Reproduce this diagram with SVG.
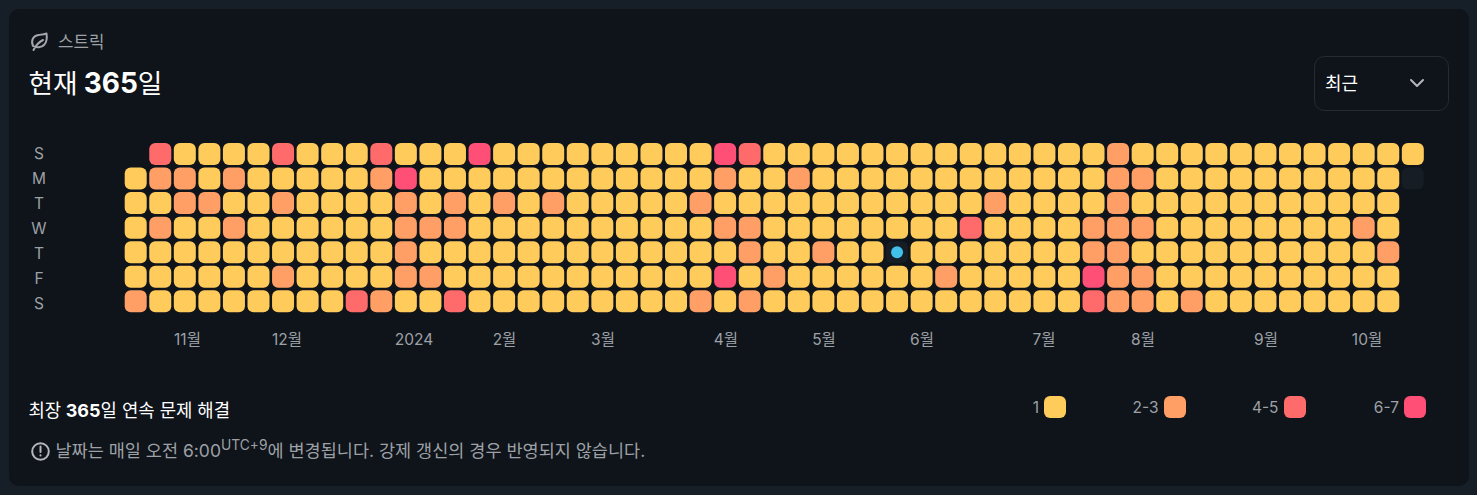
<svg xmlns="http://www.w3.org/2000/svg" width="1477" height="495" viewBox="0 0 1477 495">
<style>
text{font-family:"Inter","Noto Sans CJK KR","Noto Sans",sans-serif}
.cells rect,.lg rect{width:22px;height:22px;rx:6px;fill:#FFCC5C}
.cells rect.b,.lg rect.b{fill:#FF9F66}
.cells rect.c,.lg rect.c{fill:#FF6B6B}
.cells rect.d,.lg rect.d{fill:#FF4F76}
.cells rect.e{fill:#161D25}
.m{font-size:15.5px;fill:#9DA1A6}
.d0{text-anchor:middle}
.w{fill:#FFFFFF}
.bold{font-weight:700}
</style>
<rect width="1477" height="495" fill="#161E27"/>
<rect id="card" x="9" y="9" width="1460" height="477" rx="10" fill="#0F131A"/>
<g id="header">
<path d="M33.5 50C36 45 39 42 43 40M33 46C30.5 40 33.5 35.5 38.5 35C42 34.6 44.5 34.4 46.5 33.5C47.2 38 46.5 42 44.5 44.5C41.5 48 36.5 48 33 46Z" fill="none" stroke="#A3A6AA" stroke-width="2" stroke-linecap="round" stroke-linejoin="round"/>
<text x="58" y="48" font-size="16.8" fill="#9DA1A6">스트릭</text>
<text x="28.5" y="93" font-size="26.7" class="w">현재 <tspan class="bold" font-size="28" dx="-1.5">365</tspan>일</text>
</g>
<g id="select">
<rect x="1314.5" y="56.5" width="134" height="54" rx="10" fill="none" stroke="#262C34"/>
<text x="1325" y="89.5" font-size="18" class="w">최근</text>
<path d="M1411 80L1417 86L1423 80" fill="none" stroke="#B4B7BB" stroke-width="2" stroke-linecap="round" stroke-linejoin="round"/>
</g>
<g id="weekdays" class="m d0">
<text x="39" y="159">S</text>
<text x="39" y="184">M</text>
<text x="39" y="209">T</text>
<text x="39" y="234">W</text>
<text x="39" y="259">T</text>
<text x="39" y="284">F</text>
<text x="39" y="309">S</text>
</g>
<g id="grid" class="cells">
<g transform="translate(0,143)"><rect x="149.26" class="c"/><rect x="173.82"/><rect x="198.38"/><rect x="222.94"/><rect x="247.5"/><rect x="272.06" class="c"/><rect x="296.62"/><rect x="321.18"/><rect x="345.74"/><rect x="370.3" class="c"/><rect x="394.86"/><rect x="419.42"/><rect x="443.98"/><rect x="468.54" class="d"/><rect x="493.1"/><rect x="517.66"/><rect x="542.22"/><rect x="566.78"/><rect x="591.34"/><rect x="615.9"/><rect x="640.46"/><rect x="665.02"/><rect x="689.58"/><rect x="714.14" class="d"/><rect x="738.7" class="c"/><rect x="763.26"/><rect x="787.82"/><rect x="812.38"/><rect x="836.94"/><rect x="861.5"/><rect x="886.06"/><rect x="910.62"/><rect x="935.18"/><rect x="959.74"/><rect x="984.3"/><rect x="1008.86"/><rect x="1033.42"/><rect x="1057.98"/><rect x="1082.54"/><rect x="1107.1" class="b"/><rect x="1131.66"/><rect x="1156.22"/><rect x="1180.78"/><rect x="1205.34"/><rect x="1229.9"/><rect x="1254.46"/><rect x="1279.02"/><rect x="1303.58"/><rect x="1328.14"/><rect x="1352.7"/><rect x="1377.26"/><rect x="1401.82"/></g>
<g transform="translate(0,167.55)"><rect x="124.7"/><rect x="149.26" class="b"/><rect x="173.82" class="b"/><rect x="198.38"/><rect x="222.94" class="b"/><rect x="247.5"/><rect x="272.06"/><rect x="296.62"/><rect x="321.18"/><rect x="345.74"/><rect x="370.3" class="b"/><rect x="394.86" class="d"/><rect x="419.42"/><rect x="443.98"/><rect x="468.54"/><rect x="493.1"/><rect x="517.66"/><rect x="542.22"/><rect x="566.78"/><rect x="591.34"/><rect x="615.9"/><rect x="640.46"/><rect x="665.02"/><rect x="689.58"/><rect x="714.14" class="b"/><rect x="738.7"/><rect x="763.26"/><rect x="787.82" class="b"/><rect x="812.38"/><rect x="836.94"/><rect x="861.5"/><rect x="886.06"/><rect x="910.62"/><rect x="935.18"/><rect x="959.74"/><rect x="984.3"/><rect x="1008.86"/><rect x="1033.42"/><rect x="1057.98"/><rect x="1082.54"/><rect x="1107.1" class="b"/><rect x="1131.66" class="b"/><rect x="1156.22"/><rect x="1180.78"/><rect x="1205.34"/><rect x="1229.9"/><rect x="1254.46"/><rect x="1279.02"/><rect x="1303.58"/><rect x="1328.14"/><rect x="1352.7"/><rect x="1377.26"/><rect x="1401.82" class="e"/></g>
<g transform="translate(0,192.1)"><rect x="124.7"/><rect x="149.26"/><rect x="173.82" class="b"/><rect x="198.38" class="b"/><rect x="222.94"/><rect x="247.5"/><rect x="272.06" class="b"/><rect x="296.62"/><rect x="321.18"/><rect x="345.74"/><rect x="370.3"/><rect x="394.86" class="b"/><rect x="419.42"/><rect x="443.98" class="b"/><rect x="468.54"/><rect x="493.1" class="b"/><rect x="517.66"/><rect x="542.22" class="b"/><rect x="566.78"/><rect x="591.34"/><rect x="615.9"/><rect x="640.46"/><rect x="665.02"/><rect x="689.58" class="b"/><rect x="714.14"/><rect x="738.7"/><rect x="763.26"/><rect x="787.82"/><rect x="812.38"/><rect x="836.94"/><rect x="861.5"/><rect x="886.06"/><rect x="910.62"/><rect x="935.18"/><rect x="959.74"/><rect x="984.3" class="b"/><rect x="1008.86"/><rect x="1033.42"/><rect x="1057.98"/><rect x="1082.54"/><rect x="1107.1" class="b"/><rect x="1131.66"/><rect x="1156.22"/><rect x="1180.78"/><rect x="1205.34"/><rect x="1229.9"/><rect x="1254.46"/><rect x="1279.02"/><rect x="1303.58"/><rect x="1328.14"/><rect x="1352.7"/><rect x="1377.26"/></g>
<g transform="translate(0,216.65)"><rect x="124.7"/><rect x="149.26" class="b"/><rect x="173.82"/><rect x="198.38"/><rect x="222.94" class="b"/><rect x="247.5"/><rect x="272.06"/><rect x="296.62"/><rect x="321.18"/><rect x="345.74"/><rect x="370.3"/><rect x="394.86" class="b"/><rect x="419.42" class="b"/><rect x="443.98" class="b"/><rect x="468.54"/><rect x="493.1"/><rect x="517.66"/><rect x="542.22"/><rect x="566.78"/><rect x="591.34"/><rect x="615.9"/><rect x="640.46"/><rect x="665.02"/><rect x="689.58"/><rect x="714.14" class="b"/><rect x="738.7" class="b"/><rect x="763.26"/><rect x="787.82"/><rect x="812.38"/><rect x="836.94"/><rect x="861.5"/><rect x="886.06"/><rect x="910.62"/><rect x="935.18"/><rect x="959.74" class="c"/><rect x="984.3"/><rect x="1008.86"/><rect x="1033.42"/><rect x="1057.98"/><rect x="1082.54" class="b"/><rect x="1107.1" class="b"/><rect x="1131.66" class="b"/><rect x="1156.22"/><rect x="1180.78"/><rect x="1205.34"/><rect x="1229.9"/><rect x="1254.46"/><rect x="1279.02"/><rect x="1303.58"/><rect x="1328.14"/><rect x="1352.7" class="b"/><rect x="1377.26"/></g>
<g transform="translate(0,241.2)"><rect x="124.7"/><rect x="149.26"/><rect x="173.82"/><rect x="198.38"/><rect x="222.94"/><rect x="247.5"/><rect x="272.06"/><rect x="296.62"/><rect x="321.18"/><rect x="345.74"/><rect x="370.3"/><rect x="394.86" class="b"/><rect x="419.42"/><rect x="443.98"/><rect x="468.54"/><rect x="493.1"/><rect x="517.66"/><rect x="542.22"/><rect x="566.78"/><rect x="591.34"/><rect x="615.9"/><rect x="640.46"/><rect x="665.02"/><rect x="689.58"/><rect x="714.14"/><rect x="738.7" class="b"/><rect x="763.26"/><rect x="787.82"/><rect x="812.38" class="b"/><rect x="836.94"/><rect x="861.5"/><rect x="886.06" class="e"/><rect x="910.62"/><rect x="935.18"/><rect x="959.74"/><rect x="984.3"/><rect x="1008.86"/><rect x="1033.42"/><rect x="1057.98"/><rect x="1082.54" class="b"/><rect x="1107.1" class="b"/><rect x="1131.66"/><rect x="1156.22"/><rect x="1180.78"/><rect x="1205.34"/><rect x="1229.9"/><rect x="1254.46"/><rect x="1279.02"/><rect x="1303.58"/><rect x="1328.14"/><rect x="1352.7"/><rect x="1377.26" class="b"/></g>
<g transform="translate(0,265.75)"><rect x="124.7"/><rect x="149.26"/><rect x="173.82"/><rect x="198.38"/><rect x="222.94"/><rect x="247.5"/><rect x="272.06" class="b"/><rect x="296.62"/><rect x="321.18"/><rect x="345.74"/><rect x="370.3"/><rect x="394.86" class="b"/><rect x="419.42" class="b"/><rect x="443.98"/><rect x="468.54"/><rect x="493.1"/><rect x="517.66"/><rect x="542.22"/><rect x="566.78"/><rect x="591.34"/><rect x="615.9"/><rect x="640.46"/><rect x="665.02"/><rect x="689.58"/><rect x="714.14" class="d"/><rect x="738.7"/><rect x="763.26" class="b"/><rect x="787.82"/><rect x="812.38"/><rect x="836.94"/><rect x="861.5"/><rect x="886.06"/><rect x="910.62"/><rect x="935.18" class="b"/><rect x="959.74"/><rect x="984.3"/><rect x="1008.86"/><rect x="1033.42"/><rect x="1057.98"/><rect x="1082.54" class="d"/><rect x="1107.1" class="b"/><rect x="1131.66" class="b"/><rect x="1156.22"/><rect x="1180.78"/><rect x="1205.34"/><rect x="1229.9"/><rect x="1254.46"/><rect x="1279.02"/><rect x="1303.58"/><rect x="1328.14"/><rect x="1352.7"/><rect x="1377.26"/></g>
<g transform="translate(0,290.3)"><rect x="124.7" class="b"/><rect x="149.26"/><rect x="173.82"/><rect x="198.38"/><rect x="222.94"/><rect x="247.5"/><rect x="272.06"/><rect x="296.62"/><rect x="321.18"/><rect x="345.74" class="c"/><rect x="370.3" class="b"/><rect x="394.86"/><rect x="419.42"/><rect x="443.98" class="c"/><rect x="468.54"/><rect x="493.1"/><rect x="517.66"/><rect x="542.22"/><rect x="566.78"/><rect x="591.34"/><rect x="615.9"/><rect x="640.46"/><rect x="665.02"/><rect x="689.58" class="b"/><rect x="714.14"/><rect x="738.7" class="b"/><rect x="763.26"/><rect x="787.82"/><rect x="812.38"/><rect x="836.94"/><rect x="861.5"/><rect x="886.06"/><rect x="910.62"/><rect x="935.18"/><rect x="959.74"/><rect x="984.3"/><rect x="1008.86"/><rect x="1033.42"/><rect x="1057.98"/><rect x="1082.54" class="c"/><rect x="1107.1" class="b"/><rect x="1131.66" class="b"/><rect x="1156.22"/><rect x="1180.78" class="b"/><rect x="1205.34"/><rect x="1229.9"/><rect x="1254.46"/><rect x="1279.02"/><rect x="1303.58"/><rect x="1328.14"/><rect x="1352.7"/><rect x="1377.26"/></g>
<circle id="today" cx="897.06" cy="252.2" r="6" fill="#41C1EA"/>
</g>
<g id="months" class="m d0">
<text x="187.5" y="344.5">11월</text>
<text x="287" y="344.5">12월</text>
<text x="414" y="344.5">2024</text>
<text x="504.5" y="344.5">2월</text>
<text x="603" y="344.5">3월</text>
<text x="726" y="344.5">4월</text>
<text x="824" y="344.5">5월</text>
<text x="922" y="344.5">6월</text>
<text x="1044" y="344.5">7월</text>
<text x="1143" y="344.5">8월</text>
<text x="1266" y="344.5">9월</text>
<text x="1367" y="344.5">10월</text>
</g>
<g id="footer">
<text x="28.5" y="416.5" font-size="17.8" class="w">최장 <tspan class="bold" font-size="18" dx="-0.5">365</tspan>일 연속 문제 해결</text>
<circle cx="40.5" cy="451.5" r="8.3" fill="none" stroke="#B4B7BB" stroke-width="2"/>
<path d="M40.5 446.5V452M40.5 455.2V455.6" fill="none" stroke="#B4B7BB" stroke-width="2" stroke-linecap="round"/>
<text x="55.5" y="456.5" font-size="17.5" fill="#9DA1A6">날짜는 매일 오전 6:00<tspan font-size="13.8" dy="-7">UTC+9</tspan><tspan dy="7">에 변경됩니다. 강제 갱신의 경우 반영되지 않습니다.</tspan></text>
</g>
<g id="legend" class="lg">
<text class="m" x="1039" y="412.5" text-anchor="end">1</text><rect x="1044" y="396"/>
<text class="m" x="1158.5" y="412.5" text-anchor="end">2-3</text><rect x="1164" y="396" class="b"/>
<text class="m" x="1278.5" y="412.5" text-anchor="end">4-5</text><rect x="1284" y="396" class="c"/>
<text class="m" x="1399" y="412.5" text-anchor="end">6-7</text><rect x="1404" y="396" class="d"/>
</g>
</svg>
